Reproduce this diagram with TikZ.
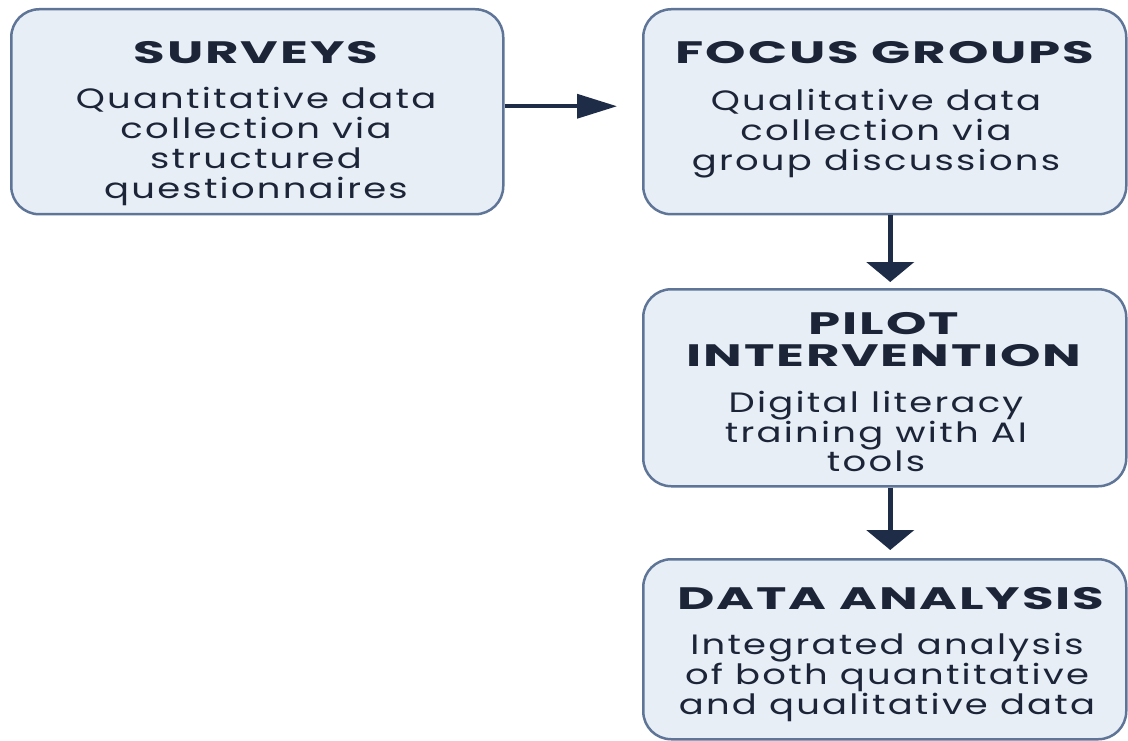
\documentclass[tikz,border=0pt]{standalone}
\usepackage{fontspec}
\setmainfont{Poppins}
\newfontfamily\headfont{Poppins}[FakeStretch=1.66, LetterSpace=6]
\newfontfamily\bodyfont{Poppins}[FakeStretch=1.32, LetterSpace=8]
\usetikzlibrary{arrows.meta}
\definecolor{boxfill}{HTML}{E8EEF6}
\definecolor{boxline}{HTML}{5F7597}
\definecolor{ink}{HTML}{1C2538}
\definecolor{arrowink}{HTML}{1E2C48}
\tikzset{
  stage/.style={draw=boxline, line width=2.5pt, fill=boxfill, rounded corners=28pt,
    inner sep=0pt, anchor=north west},
  heading/.style={font=\headfont\bfseries\fontsize{31}{32}\selectfont, text=ink, align=center,
    inner sep=0pt, anchor=base},
  blurb/.style={font=\bodyfont\fontsize{28}{30}\selectfont, text=ink, align=center,
    inner sep=0pt, anchor=north},
  flowh/.style={draw=arrowink, line width=3.5pt, -{Triangle[length=40pt,width=24pt]}},
  flowv/.style={draw=arrowink, line width=5pt, -{Triangle[length=20pt,width=47pt]}},
}
\begin{document}
\begin{tikzpicture}[x=1pt,y=-1pt]
  \useasboundingbox[fill=white] (0,0) rectangle (1128,741);

  % stage boxes
  \node[stage, minimum width=492pt, minimum height=205pt] (surveys) at (10,8) {};
  \node[stage, minimum width=483pt, minimum height=205pt] (focus) at (642,8) {};
  \node[stage, minimum width=483pt, minimum height=197pt] (pilot) at (642,288) {};
  \node[stage, minimum width=483pt, minimum height=180pt] (analysis) at (642,558) {};

  % headings and descriptions
  \node[heading] (surveysT) at (256,64) {SURVEYS};
  \node[blurb] (surveysB) at (256,87) {Quantitative data\\collection via\\structured\\questionnaires};

  \node[heading] (focusT) at (885,64) {FOCUS GROUPS};
  \node[blurb] (focusB) at (876,89) {Qualitative data\\collection via\\group discussions};

  \node[heading] (pilotT1) at (884,334) {PILOT};
  \node[heading] (pilotT2) at (884,366) {INTERVENTION};
  \node[blurb, font=\bodyfont\fontsize{28}{28}\selectfont] (pilotB) at (876,391) {Digital literacy\\training with AI\\tools};

  \node[heading] (analysisT) at (891,609) {DATA ANALYSIS};
  \node[blurb] (analysisB) at (887,633) {Integrated analysis\\of both quantitative\\and qualitative data};

  % flow connectors
  \draw[flowh] ([yshift=5.5pt]surveys.east) -- ([xshift=-25pt,yshift=5.5pt]focus.west);
  \draw[flowv] ([xshift=5.5pt]focus.south) -- ([xshift=5.5pt,yshift=6pt]pilot.north);
  \draw[flowv] ([xshift=5.5pt]pilot.south) -- ([xshift=5.5pt,yshift=8pt]analysis.north);
\end{tikzpicture}
\end{document}
